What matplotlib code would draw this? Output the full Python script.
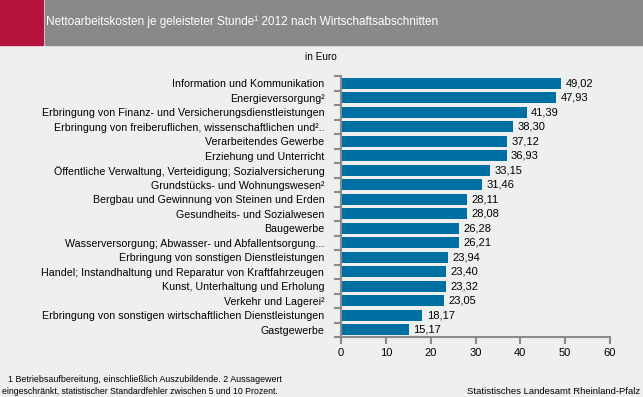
import matplotlib.pyplot as plt
import matplotlib.patches as patches

# Wirtschaftsabschnitte, top to bottom
categories = [
    "Information und Kommunikation",
    "Energieversorgung²",
    "Erbringung von Finanz- und Versicherungsdienstleistungen",
    "Erbringung von freiberuflichen, wissenschaftlichen und²..",
    "Verarbeitendes Gewerbe",
    "Erziehung und Unterricht",
    "Öffentliche Verwaltung, Verteidigung; Sozialversicherung",
    "Grundstücks- und Wohnungswesen²",
    "Bergbau und Gewinnung von Steinen und Erden",
    "Gesundheits- und Sozialwesen",
    "Baugewerbe",
    "Wasserversorgung; Abwasser- und Abfallentsorgung...",
    "Erbringung von sonstigen Dienstleistungen",
    "Handel; Instandhaltung und Reparatur von Kraftfahrzeugen",
    "Kunst, Unterhaltung und Erholung",
    "Verkehr und Lagerei²",
    "Erbringung von sonstigen wirtschaftlichen Dienstleistungen",
    "Gastgewerbe",
]
values = [49.02, 47.93, 41.39, 38.30, 37.12, 36.93, 33.15, 31.46, 28.11,
          28.08, 26.28, 26.21, 23.94, 23.40, 23.32, 23.05, 18.17, 15.17]
x_ticks = [0, 10, 20, 30, 40, 50, 60]

plt.rcParams['font.family'] = ['Liberation Sans', 'DejaVu Sans']

bg = "#eef0ef"
bar_color = "#0070a3"
axis_grey = "#8a8a8a"

fig = plt.figure(figsize=(6.43, 3.97), dpi=100, facecolor=bg)

# header band
fig.patches.append(patches.Rectangle((0, 1 - 45 / 397), 43 / 643, 45 / 397,
                                     transform=fig.transFigure, color="#b5123e", zorder=0))
fig.patches.append(patches.Rectangle((45 / 643, 1 - 45 / 397), 1 - 45 / 643, 45 / 397,
                                     transform=fig.transFigure, color="#898989", zorder=0))
fig.text(46 / 643, 1 - 22 / 397, "Nettoarbeitskosten je geleisteter Stunde¹ 2012 nach Wirtschaftsabschnitten",
         color="white", fontsize=8.5, va="center", ha="left")
fig.text(321 / 643, 1 - 57 / 397, "in Euro", fontsize=7.2, ha="center", va="center")

ax = fig.add_axes([341 / 643, 1 - 337 / 397, 269 / 643, 261 / 397])
ax.set_facecolor(bg)

y = list(range(len(categories)))
ax.barh(y, values, height=0.78, color=bar_color)
for yi, v in zip(y, values):
    ax.text(v + 1.0, yi, f"{v:.2f}".replace(".", ","), va="center", ha="left", fontsize=8)

ax.set_xlim(0, 60)
ax.set_ylim(len(categories) - 0.5, -0.5)
ax.set_xticks(x_ticks)
ax.set_xticklabels([str(t) for t in x_ticks], fontsize=8)

ax.set_yticks(y)
ax.set_yticklabels(categories, fontsize=7.7)
ax.tick_params(axis="y", length=0, pad=12)
# boundary ticks on y axis
ax.set_yticks([i - 0.5 for i in range(len(categories) + 1)], minor=True)
ax.tick_params(axis="y", which="minor", length=5, width=1.5, color=axis_grey)
ax.tick_params(axis="x", length=5, width=1.5, color=axis_grey, pad=3)

for s in ["top", "right"]:
    ax.spines[s].set_visible(False)
for s in ["left", "bottom"]:
    ax.spines[s].set_color(axis_grey)
    ax.spines[s].set_linewidth(1.5)

fig.text(8 / 643, 1 - 380 / 397, "1 Betriebsaufbereitung, einschließlich Auszubildende. 2 Aussagewert",
         fontsize=6.4, ha="left", va="center")
fig.text(2 / 643, 1 - 391 / 397, "eingeschränkt, statistischer Standardfehler zwischen 5 und 10 Prozent.",
         fontsize=6.3, ha="left", va="center")
fig.text(640 / 643, 1 - 391 / 397, "Statistisches Landesamt Rheinland-Pfalz",
         fontsize=6.8, ha="right", va="center")

fig.savefig("out.png", dpi=100, facecolor=bg)
